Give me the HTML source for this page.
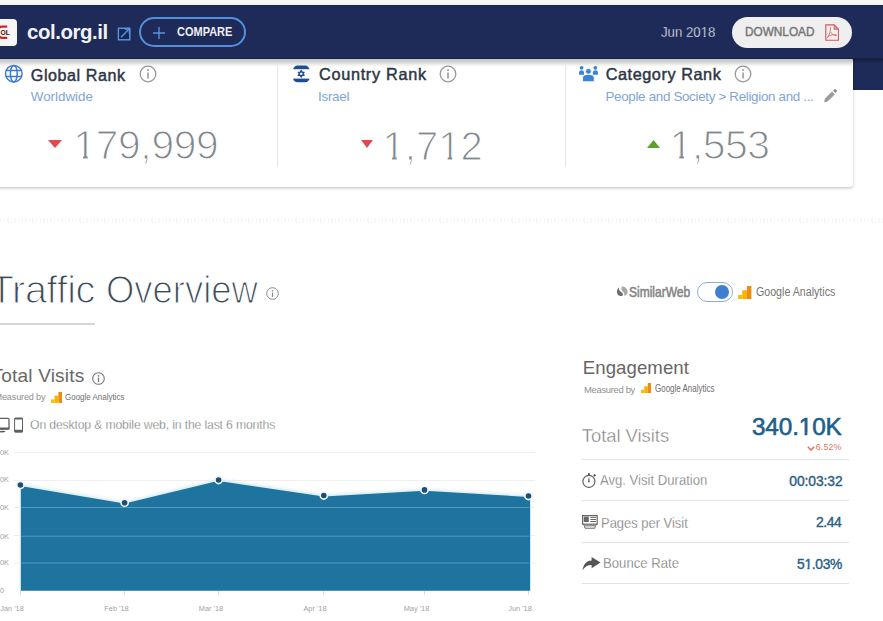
<!DOCTYPE html>
<html><head><meta charset="utf-8">
<style>
*{margin:0;padding:0;box-sizing:border-box}
html,body{width:883px;height:621px;overflow:hidden;background:#fff;font-family:"Liberation Sans",sans-serif}
.a{position:absolute}
.t{position:absolute;white-space:nowrap;line-height:1}
.one2{display:inline-block;clip-path:polygon(0 0,100% 0,100% 0.66em,0.37em 0.66em,0.37em 100%,0.22em 100%,0.22em 0.66em,0 0.66em)}
.one{display:inline-block;clip-path:polygon(0 0,100% 0,100% 0.735em,0.35em 0.735em,0.35em 100%,0.24em 100%,0.24em 0.735em,0 0.735em)}
#top{left:0;top:0;width:883px;height:5px;background:linear-gradient(#f8f9f5 0 55%,#f2f4fa 55%)}
#nav{left:0;top:5px;width:883px;height:53.5px;background:#1e2a58;}
#navx{left:0;top:5px;width:883px;height:85.3px;background:#1e2a58}
#card{left:-10px;top:56px;width:862.5px;height:130.5px;background:#fff;border-radius:3px;box-shadow:0 1px 2.5px rgba(0,0,0,.2),0 2px 5px rgba(0,0,0,.06)}
</style></head><body>
<div class="a" id="top"></div>
<div class="a" id="navx"></div>
<div class="a" id="card"></div>
<div class="a" id="nav"></div>
<div class="a" style="left:0;top:5px;width:883px;height:1px;background:#1a2347"></div>
<div class="a" style="left:0;top:58px;width:883px;height:1px;background:#19213f"></div>
<div class="a" style="left:0;top:59px;width:852px;height:8px;background:linear-gradient(#c3c7d5 0,#c3c7d5 1px,#c9cacf 1.6px,#d5d5d1 3px,#e3e3df 4.5px,#f1f2ee 6px,#fafbf8 7.2px,rgba(255,255,255,0) 8px)"></div>
<div class="a" style="left:852px;top:59px;width:31px;height:4px;background:linear-gradient(rgba(10,14,30,.45),rgba(10,14,30,0))"></div>

<!-- favicon -->
<div class="a" style="left:-10px;top:19px;width:27px;height:26.5px;background:#f7f5f4;border-radius:4px"></div>
<svg class="a" style="left:0;top:25px" width="12" height="15" viewBox="0 0 12 15"><path d="M7.2 1.6H2Q-1.2 1.6 -1.2 4.6V9.8Q-1.2 12.8 2 12.8H7.2" fill="none" stroke="#c22b2b" stroke-width="2.2"/><text x="0.6" y="9.9" font-family="Liberation Sans" font-weight="bold" font-size="6.8" fill="#4a0c0c" letter-spacing="-0.2">OL</text></svg>

<!-- ext link icon -->
<svg class="a" style="left:117px;top:27px" width="14" height="14" viewBox="0 0 14 14"><rect x="1.4" y="1.2" width="11.4" height="11.6" fill="#132858" stroke="#5f95da" stroke-width="1.4"/><path d="M4 10.2L11.6 2.6" stroke="#5f95da" stroke-width="1.4"/><path d="M7.6 2H12.4V6.8" fill="none" stroke="#5f95da" stroke-width="1.4"/></svg>
<!-- compare -->
<div class="a" style="left:139px;top:17px;width:107px;height:30px;border:2px solid #5390dd;border-radius:15px"></div>
<svg class="a" style="left:153px;top:27px" width="12" height="12" viewBox="0 0 12 12"><path d="M6 0v12M0 6h12" stroke="#5a95e0" stroke-width="1.3"/></svg>

<div class="a" style="left:732px;top:17px;width:120px;height:31px;background:#efefef;border-radius:16px"></div>
<svg class="a" style="left:824.6px;top:23.5px" width="14.5" height="17" viewBox="0 0 14.5 17"><path d="M0.8 0.9H9.1L13.5 5.3V16.2H0.8z" fill="#f7eeee" stroke="#cf5a5c" stroke-width="1.15"/><path d="M9.1 0.9V5.3H13.5z" fill="#e59a9b" stroke="#cf5a5c" stroke-width="0.8"/><path d="M5.4 3C5.9 6.5 4.6 10.5 2.2 14.2M5.6 8C6.8 10.2 9 11.3 11.8 11.8M3.2 12.6C6 10.8 8.8 10.3 11.4 10.8" fill="none" stroke="#d46a6c" stroke-width="0.9"/></svg>

<!-- card -->
<div class="a" style="left:277px;top:63px;width:1px;height:104px;background:#e6e6e6"></div>
<div class="a" style="left:565px;top:63px;width:1px;height:104px;background:#e6e6e6"></div>

<!-- global -->
<svg class="a" style="left:4px;top:64px" width="20" height="20" viewBox="0 0 20 20"><g fill="none" stroke="#3b7bcb" stroke-width="1.5"><circle cx="9.8" cy="9.7" r="8.3"/><ellipse cx="9.8" cy="9.7" rx="3.4" ry="8.3"/><path d="M2 6.5h15.6M2 12.5h15.6"/></g></svg>
<svg class="a" style="left:138.5px;top:64.5px" width="18" height="18" viewBox="0 0 18 18"><circle cx="9" cy="9" r="7.8" fill="none" stroke="#9a9a9a" stroke-width="1.3"/><path d="M9 7.5v6" stroke="#9a9a9a" stroke-width="1.6"/><circle cx="9" cy="5" r="1" fill="#9a9a9a"/></svg>
<svg class="a" style="left:48.2px;top:139.6px" width="14" height="8" viewBox="0 0 14 8"><path d="M0 0h14L7 8z" fill="#e5484a"/></svg>

<!-- country -->
<svg class="a" style="left:292px;top:65px" width="18" height="18" viewBox="0 0 18 18"><defs><clipPath id="fc"><rect x="1" y="0.6" width="16.6" height="16.6" rx="4.5"/></clipPath></defs><g clip-path="url(#fc)" fill="#1f4f8f"><rect x="0" y="0" width="18" height="4.2"/><rect x="0" y="13.6" width="18" height="4.4"/></g><path d="M9.2 5.3L12.2 10.4H6.2zM9.2 12.3L6.2 7.2H12.2z" fill="none" stroke="#1f4f8f" stroke-width="1.1" stroke-linejoin="round"/></svg>
<svg class="a" style="left:439px;top:64.5px" width="18" height="18" viewBox="0 0 18 18"><circle cx="9" cy="9" r="7.8" fill="none" stroke="#9a9a9a" stroke-width="1.3"/><path d="M9 7.5v6" stroke="#9a9a9a" stroke-width="1.6"/><circle cx="9" cy="5" r="1" fill="#9a9a9a"/></svg>
<svg class="a" style="left:360.5px;top:139.5px" width="12" height="8" viewBox="0 0 12 8"><path d="M0 0h12L6 8z" fill="#e5484a"/></svg>

<!-- category -->
<svg class="a" style="left:578px;top:65px" width="21" height="18" viewBox="0 0 21 18"><g fill="#3a84d6"><circle cx="3.6" cy="2.8" r="1.9"/><path d="M1 9.7V7.3Q1 5.3 3.5 5.3Q6 5.3 6 7.3V9.7z"/><circle cx="17.3" cy="2.8" r="1.9"/><path d="M14.9 9.7V7.3Q14.9 5.3 17.4 5.3Q19.9 5.3 19.9 7.3V9.7z"/><circle cx="10.4" cy="6.3" r="2.9" stroke="#fff" stroke-width="0.8"/><path d="M4.6 16.7V12.6Q4.6 9.4 10.4 9.4Q16.2 9.4 16.2 12.6V16.7z" stroke="#fff" stroke-width="0.8"/></g></svg>
<svg class="a" style="left:734px;top:64.5px" width="18" height="18" viewBox="0 0 18 18"><circle cx="9" cy="9" r="7.8" fill="none" stroke="#9a9a9a" stroke-width="1.3"/><path d="M9 7.5v6" stroke="#9a9a9a" stroke-width="1.6"/><circle cx="9" cy="5" r="1" fill="#9a9a9a"/></svg>
<svg class="a" style="left:822px;top:88px" width="16" height="16" viewBox="0 0 16 16"><path d="M2.2 14.2L2.8 10.8L10 3.6L12.8 6.4L5.6 13.6z" fill="#9c9c9c"/><path d="M11 2.6L12.2 1.4Q13 .6 13.8 1.4L14.6 2.2Q15.4 3 14.6 3.8L13.4 5z" fill="#8a8a8a"/></svg>
<svg class="a" style="left:646.5px;top:140px" width="13" height="8" viewBox="0 0 13 8"><path d="M0 8h13L6.5 0z" fill="#5aa02c"/></svg>

<!-- dotted -->
<div class="a" style="left:0;top:218px;width:883px;height:5px;background:repeating-linear-gradient(90deg,#ededed 0 1.3px,transparent 1.3px 3.6px);opacity:.5"></div>

<!-- traffic overview -->
<svg class="a" style="left:266px;top:287px" width="13" height="13" viewBox="0 0 13 13"><circle cx="6.5" cy="6.5" r="5.8" fill="none" stroke="#888" stroke-width="1"/><path d="M6.5 5.5v4.5" stroke="#888" stroke-width="1.2"/><circle cx="6.5" cy="3.8" r=".8" fill="#888"/></svg>
<div class="a" style="left:0;top:323px;width:95px;height:2px;background:#d6d6d6"></div>

<!-- toggle -->
<svg class="a" style="left:616px;top:286.2px" width="12" height="11" viewBox="0 0 12 11"><path d="M3 1.4C1 2.9 0.4 5.8 1.4 7.9C2.4 9.8 5 10.4 6.9 9.6C7.3 8 6.6 6.8 5.3 6C3.8 5 2.6 3.3 3 1.4z" fill="#6f6f6f"/><path d="M6 0.6C8.5 0.3 11 2.3 11.5 4.9C11.9 7.2 10.6 9.2 8.4 9.9C8.7 8 8 6.5 6.7 5.5C5.3 4.5 5 2.4 6 0.6z" fill="#a8a8a8"/></svg>
<div class="a" style="left:697px;top:282px;width:35.5px;height:20px;border:1.2px solid #8fadd3;border-radius:10px;background:#fff"></div>
<div class="a" style="left:714.6px;top:284.8px;width:14.6px;height:14.6px;border-radius:50%;background:#3d7fd0"></div>
<svg class="a" style="left:738.2px;top:285.6px" width="13.4" height="13.2" viewBox="0 0 13.2 13"><rect x="0" y="8.7" width="4.2" height="4.3" fill="#f4c20d"/><rect x="4.2" y="4.2" width="4.6" height="8.8" fill="#f9b300"/><rect x="8.8" y="0" width="4.4" height="13" fill="#ef8a12"/></svg>

<!-- total visits -->
<svg class="a" style="left:91.5px;top:371.5px" width="13" height="13" viewBox="0 0 13 13"><circle cx="6.5" cy="6.5" r="5.8" fill="none" stroke="#777" stroke-width="1.1"/><path d="M6.5 5.5v4.5" stroke="#777" stroke-width="1.3"/><circle cx="6.5" cy="3.8" r=".9" fill="#777"/></svg>
<svg class="a" style="left:50.5px;top:391.5px" width="11" height="11" viewBox="0 0 13 13"><rect x="0" y="8.7" width="4.2" height="4.3" fill="#f4c20d"/><rect x="4.2" y="4.2" width="4.6" height="8.8" fill="#f9b300"/><rect x="8.8" y="0" width="4.4" height="13" fill="#ef8a12"/></svg>
<svg class="a" style="left:0;top:417px" width="25" height="16" viewBox="0 0 25 16"><g fill="none" stroke="#5f5f5f"><rect x="-6" y="1.4" width="15" height="10.6" rx="1.2" stroke-width="1.3"/><rect x="14.6" y="1.2" width="7.9" height="13.7" rx="1" stroke-width="1"/></g><g fill="#5f5f5f"><rect x="-6" y="10.6" width="15.6" height="2" rx="1"/><ellipse cx="2.5" cy="14.6" rx="3.2" ry="0.8"/><rect x="14.2" y="0.7" width="8.8" height="1.8" rx="0.9"/><rect x="14.2" y="12.7" width="8.8" height="2.7" rx="0.9"/></g></svg>

<!-- chart -->
<svg class="a" style="left:0;top:440px" width="560" height="181" viewBox="0 440 560 181">
<g stroke="#efefef" stroke-width="1">
<path d="M14 452.5H535M14 480.5H535M14 507.5H535M14 535.5H535M14 563H535"/>
</g>
<path d="M20.4 485L124.6 502.7L218.6 480L323.8 495.5L424.5 489.9L528.5 496L530 496.3V590.7H20.4z" fill="#1e749f"/>
<g stroke="#5299c4" stroke-width="1">
<path d="M20.4 507.5H529M20.4 536.2H529M20.4 563H529"/>
</g>
<path d="M20.4 483L124.6 500.7L218.6 478L323.8 493.5L424.5 487.9L528.5 494" fill="none" stroke="#efece6" stroke-width="2" opacity=".35"/>
<path d="M20.4 485L124.6 502.7L218.6 480L323.8 495.5L424.5 489.9L528.5 496" fill="none" stroke="#dcf2fa" stroke-width="1.8"/>
<g fill="#1c4d74" stroke="#f2f8fc" stroke-width="1.6">
<circle cx="20.4" cy="485" r="3.6"/><circle cx="124.6" cy="502.7" r="3.6"/><circle cx="218.6" cy="480" r="3.6"/><circle cx="323.8" cy="495.5" r="3.6"/><circle cx="424.5" cy="489.9" r="3.6"/><circle cx="528.5" cy="496" r="3.6"/>
</g>
<g stroke="#dcdcdc" stroke-width="1"><path d="M20.5 591v4M124.5 591v4M218.5 591v4M323.5 591v4M424.5 591v4M528.5 591v4"/></g>
<path d="M20.4 489V590.7M530.5 499V590.7" stroke="#cde9f4" stroke-width="1"/>
<g font-family="Liberation Sans" font-size="7.4" fill="#a2a2a2">
<text x="9" y="455" text-anchor="end">300K</text>
<text x="9" y="482" text-anchor="end">250K</text>
<text x="9" y="509.5" text-anchor="end">200K</text>
<text x="9" y="538.5" text-anchor="end">150K</text>
<text x="9" y="565" text-anchor="end">100K</text>
<text x="4" y="593" text-anchor="end">0</text>
<text x="12" y="611" text-anchor="middle">Jan '18</text>
<text x="116.5" y="611" text-anchor="middle">Feb '18</text>
<text x="211" y="611" text-anchor="middle">Mar '18</text>
<text x="315" y="611" text-anchor="middle">Apr '18</text>
<text x="416.5" y="611" text-anchor="middle">May '18</text>
<text x="520" y="611" text-anchor="middle">Jun '18</text>
</g>
</svg>

<!-- engagement -->
<svg class="a" style="left:641px;top:383px" width="10" height="10" viewBox="0 0 13 13"><rect x="0" y="8.7" width="4.2" height="4.3" fill="#f4c20d"/><rect x="4.2" y="4.2" width="4.6" height="8.8" fill="#f9b300"/><rect x="8.8" y="0" width="4.4" height="13" fill="#ef8a12"/></svg>

<svg class="a" style="left:806.5px;top:445.5px" width="8" height="5" viewBox="0 0 8 5"><path d="M0.8 0.8L4 4L7.2 0.8" fill="none" stroke="#e0735f" stroke-width="1.6"/></svg>
<div class="a" style="left:582px;top:458.5px;width:267px;height:1px;background:#e2e2e2"></div>

<svg class="a" style="left:581px;top:472px" width="16" height="16" viewBox="0 0 16 16"><circle cx="7.9" cy="9.4" r="6" fill="none" stroke="#666" stroke-width="1.25"/><rect x="7" y="1.2" width="1.8" height="2.4" fill="#555"/><rect x="12.6" y="2.3" width="2" height="2" fill="#444" transform="rotate(45 13.6 3.3)"/><path d="M7.1 10.3L8.7 10.3L8.2 5.4L7.6 5.4z" fill="#555"/></svg>
<div class="a" style="left:582px;top:500px;width:267px;height:1px;background:#e2e2e2"></div>

<svg class="a" style="left:581px;top:513px" width="18" height="17" viewBox="0 0 18 17"><g fill="none" stroke="#666" stroke-width="1.2"><rect x="1.6" y="2.6" width="14.6" height="8.6"/><path d="M9.3 4.4H15M9.3 6.5H15M9.3 8.5H15" stroke-width="1"/><path d="M2.6 11.4L3.2 12.8H14.6L15.2 11.4M3.4 13.2L4 15.2H13.8L14.4 13.2" stroke-width="1"/></g><rect x="2.8" y="3.6" width="5" height="5.4" fill="#666"/></svg>
<div class="a" style="left:582px;top:541.5px;width:267px;height:1px;background:#e2e2e2"></div>

<svg class="a" style="left:581.5px;top:557px" width="19" height="14" viewBox="0 0 19 14"><path d="M0.6 13.3C1.2 7.6 4.4 3.4 9.6 3.4V0L18.5 5.6L9.6 11.2V8C5.8 7.9 2.8 9.6 0.6 13.3z" fill="#555"/></svg>
<div class="a" style="left:582px;top:583px;width:267px;height:1px;background:#e2e2e2"></div>

<div class="t" id="dom" style="left:27.00px;top:21.52px;font-size:20.41px;letter-spacing:-0.429px;color:#f2f3f7;font-weight:bold">col.org.il</div>
<div class="t" id="cmp" style="left:176.60px;top:26.17px;font-size:12.79px;letter-spacing:0px;color:#eef0f5;transform:scaleX(0.8604);transform-origin:0 0;font-weight:bold">COMPARE</div>
<div class="t" id="jun" style="left:661.30px;top:24.46px;font-size:15.29px;letter-spacing:0px;color:#e8ebf3;transform:scaleX(0.8657);transform-origin:0 0;-webkit-text-stroke:0.3px #1e2a58">Jun 20<span class="one2">1</span>8</div>
<div class="t" id="dl" style="left:745.06px;top:25.82px;font-size:12.5px;letter-spacing:0px;color:#777777;transform:scaleX(0.9437);transform-origin:0 0;-webkit-text-stroke:0.45px #777777">DOWNLOAD</div>
<div class="t" id="gr" style="left:30.80px;top:66.55px;font-size:16.13px;letter-spacing:0.561px;color:#2d3644;-webkit-text-stroke:0.45px #2d3644">Global Rank</div>
<div class="t" id="ww" style="left:30.80px;top:89.88px;font-size:13.37px;letter-spacing:-0.011px;color:#7fa5d5">Worldwide</div>
<div class="t" id="n1" style="left:73.30px;top:125.13px;font-size:40.72px;letter-spacing:-0.29px;color:#80868b;-webkit-text-stroke:1.2px #fff"><span class="one">1</span>79,999</div>
<div class="t" id="cr" style="left:319.00px;top:66.32px;font-size:16.28px;letter-spacing:0.69px;color:#2d3644;-webkit-text-stroke:0.45px #2d3644">Country Rank</div>
<div class="t" id="il" style="left:318.00px;top:89.88px;font-size:13.37px;letter-spacing:-0.24px;color:#7fa5d5">Israel</div>
<div class="t" id="n2" style="left:382.60px;top:125.54px;font-size:40.0px;letter-spacing:-0.013px;color:#80868b;-webkit-text-stroke:1.2px #fff"><span class="one">1</span>,7<span class="one">1</span>2</div>
<div class="t" id="cat" style="left:605.70px;top:66.42px;font-size:16.28px;letter-spacing:0.554px;color:#2d3644;-webkit-text-stroke:0.45px #2d3644">Category Rank</div>
<div class="t" id="ps" style="left:605.50px;top:89.98px;font-size:13.37px;letter-spacing:-0.31px;color:#7fa5d5">People and Society > Religion and ...</div>
<div class="t" id="n3" style="left:669.60px;top:124.81px;font-size:40.86px;letter-spacing:-0.456px;color:#80868b;-webkit-text-stroke:1.2px #fff"><span class="one">1</span>,553</div>
<div class="t" id="to" style="left:-10.30px;top:269.54px;font-size:39.53px;letter-spacing:-0.321px;color:#3c4a57;-webkit-text-stroke:1.2px #fff">Traffic</div>
<div class="t" id="to2" style="left:106.18px;top:269.54px;font-size:39.53px;letter-spacing:0px;color:#3c4a57;transform:scaleX(0.9218);transform-origin:0 0;-webkit-text-stroke:1.2px #fff">Overview</div>
<div class="t" id="sw" style="left:629.00px;top:284.56px;font-size:14.1px;letter-spacing:0px;color:#858585;transform:scaleX(0.8520);transform-origin:0 0;-webkit-text-stroke:0.55px #858585">SimilarWeb</div>
<div class="t" id="ga1" style="left:756.40px;top:285.69px;font-size:12.65px;letter-spacing:0px;color:#757575;transform:scaleX(0.8420);transform-origin:0 0">Google Analytics</div>
<div class="t" id="tv" style="left:-8.50px;top:366.28px;font-size:19.04px;letter-spacing:0.191px;color:#686868">Total Visits</div>
<div class="t" id="mb1" style="left:-5.50px;top:393.16px;font-size:9.14px;letter-spacing:-0.169px;color:#8f8f8f">Measured by</div>
<div class="t" id="ga2" style="left:64.80px;top:392.53px;font-size:9.3px;letter-spacing:0px;color:#6e6e6e;transform:scaleX(0.8572);transform-origin:0 0">Google Analytics</div>
<div class="t" id="od" style="left:30.05px;top:418.66px;font-size:12.21px;letter-spacing:-0.147px;color:#6e6e6e;-webkit-text-stroke:0.3px #fff">On desktop &amp; mobile web, in the last 6 months</div>
<div class="t" id="eng" style="left:582.80px;top:358.86px;font-size:18.6px;letter-spacing:0.069px;color:#666666">Engagement</div>
<div class="t" id="mb2" style="left:584.10px;top:384.70px;font-size:9.45px;letter-spacing:-0.334px;color:#8f8f8f">Measured by</div>
<div class="t" id="ga3" style="left:654.90px;top:384.09px;font-size:10.17px;letter-spacing:0px;color:#6e6e6e;transform:scaleX(0.7855);transform-origin:0 0">Google Analytics</div>
<div class="t" id="tv2" style="left:581.80px;top:427.37px;font-size:18.46px;letter-spacing:-0.042px;color:#7e7e7e;-webkit-text-stroke:0.4px #fff">Total Visits</div>
<div class="t" id="big" style="left:751.90px;top:414.51px;font-size:24.32px;letter-spacing:-0.11px;color:#1c5f8c;-webkit-text-stroke:0.6px #1c5f8c">340.<span class="one">1</span>0K</div>
<div class="t" id="pct" style="left:815.70px;top:442.97px;font-size:8.78px;letter-spacing:0.21px;color:#e0735f">6.52%</div>
<div class="t" id="avg" style="left:599.85px;top:473.32px;font-size:14.39px;letter-spacing:0px;color:#6f6f6f;transform:scaleX(0.9114);transform-origin:0 0;-webkit-text-stroke:0.3px #fff">Avg. Visit Duration</div>
<div class="t" id="v1" style="left:789.30px;top:474.51px;font-size:13.81px;letter-spacing:-0.047px;color:#2a5f88;-webkit-text-stroke:0.4px #2a5f88">00:03:32</div>
<div class="t" id="pp" style="left:600.79px;top:514.60px;font-size:15.12px;letter-spacing:0px;color:#6f6f6f;transform:scaleX(0.8562);transform-origin:0 0;-webkit-text-stroke:0.3px #fff">Pages per Visit</div>
<div class="t" id="v2" style="left:816.00px;top:515.88px;font-size:13.96px;letter-spacing:-0.466px;color:#2a5f88;-webkit-text-stroke:0.4px #2a5f88">2.44</div>
<div class="t" id="br" style="left:603.25px;top:556.47px;font-size:14.68px;letter-spacing:0px;color:#6f6f6f;transform:scaleX(0.8964);transform-origin:0 0;-webkit-text-stroke:0.3px #fff">Bounce Rate</div>
<div class="t" id="v3" style="left:797.00px;top:557.91px;font-size:13.81px;letter-spacing:-0.305px;color:#2a5f88;-webkit-text-stroke:0.4px #2a5f88">5<span class="one2">1</span>.03%</div>
</body></html>
